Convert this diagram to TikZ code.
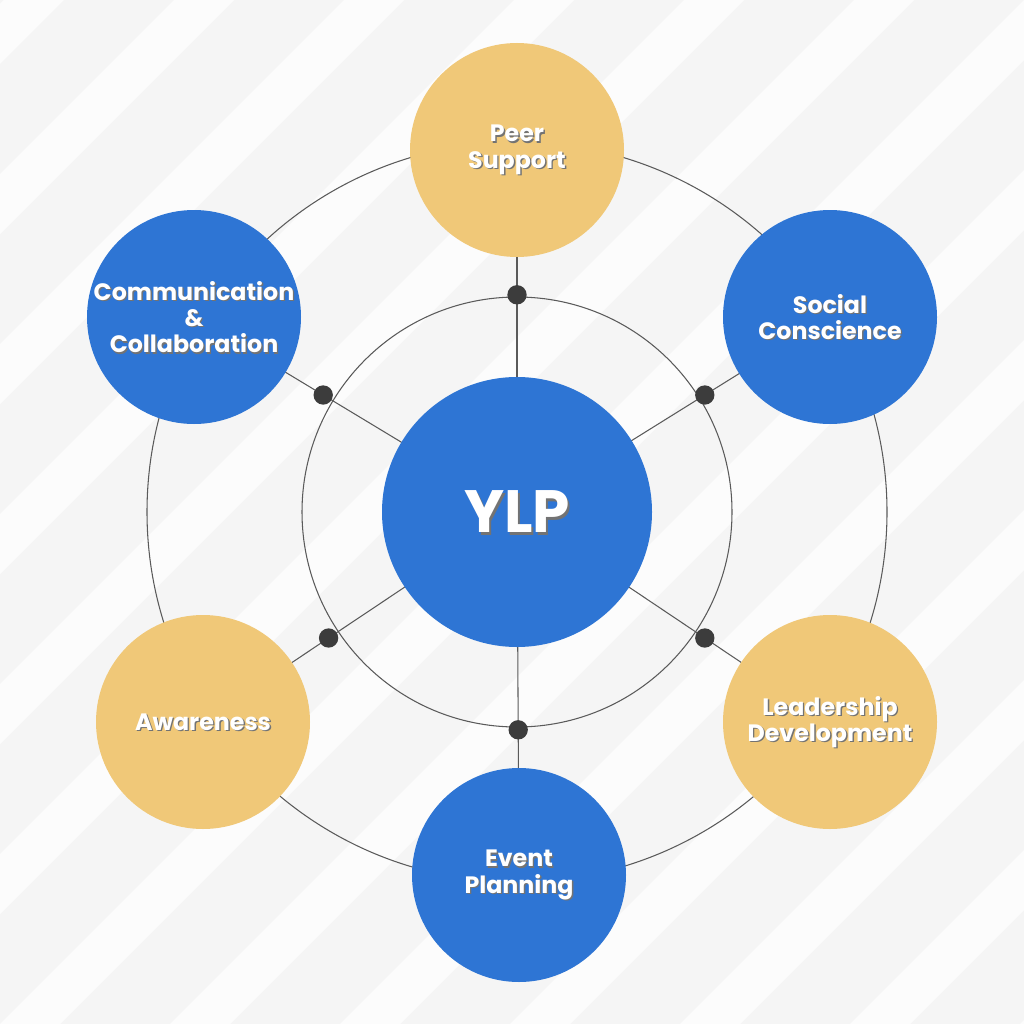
\documentclass[tikz,border=0pt]{standalone}
\usepackage{fontspec}
\setmainfont{Poppins}
\definecolor{ylpblue}{RGB}{46,117,212}
\definecolor{ylpgold}{RGB}{240,200,120}
\definecolor{ringgray}{RGB}{90,90,90}
\definecolor{bggray}{RGB}{245,245,245}
\definecolor{dotgray}{RGB}{60,60,60}
\begin{document}
\begin{tikzpicture}[x=0.02cm,y=-0.02cm,
  blue/.style={fill=ylpblue},
  gold/.style={fill=ylpgold},
  ring/.style={draw=ringgray,line width=0.6pt},
  lbl/.style={text=white,font=\bfseries\fontsize{13.5}{15}\selectfont,align=center},
  shd/.style={text=black!55,font=\bfseries\fontsize{13.5}{15}\selectfont,align=center},
  dot/.style={circle,fill=dotgray,inner sep=0,minimum size=11pt}]
\fill[bggray] (0,0) rectangle (1024,1024);
\begin{scope}
\clip (0,0) rectangle (1024,1024);
\foreach \k in {-6,...,6}{
  \fill[white,opacity=0.7] (\k*170-400,1424) -- (\k*170-340,1424) -- (\k*170+1084,0) -- (\k*170+1024,0) -- cycle;
}
\end{scope}
\coordinate (c) at (517,512);
\draw[ring] (c) circle[radius=370];
\draw[ring] (c) circle[radius=215];
\coordinate (p1) at (517,150);
\coordinate (p2) at (830,317);
\coordinate (p3) at (830,722);
\coordinate (p4) at (519,875);
\coordinate (p5) at (203,722);
\coordinate (p6) at (194,317);
\foreach \i in {1,...,6}{\draw[ring] (c) -- (p\i);}
\foreach \i in {1,...,6}{\path (c) -- (p\i) node[dot,pos=0.6] (d\i) {};}
\fill[gold] (p1) circle[radius=107];
\fill[blue] (p2) circle[radius=107];
\fill[gold] (p3) circle[radius=107];
\fill[blue] (p4) circle[radius=107];
\fill[gold] (p5) circle[radius=107];
\fill[blue] (p6) circle[radius=107];
\fill[blue] (c) circle[radius=135];
\foreach \p/\t in {p1/{Peer\\Support},p2/{Social\\Conscience},p3/{Leadership\\Development},p4/{Event\\Planning},p5/{Awareness},p6/{Communication\\\&\\Collaboration}}{
  \node[shd] at ([xshift=0.8pt,yshift=-0.8pt]\p) {\t};
  \node[lbl] (t\p) at (\p) {\t};
}
\node[text=black!55,font=\bfseries\fontsize{34}{36}\selectfont] at ([xshift=1.2pt,yshift=-1.2pt]c) {YLP};
\node[text=white,font=\bfseries\fontsize{34}{36}\selectfont] (ylp) at (c) {YLP};
\end{tikzpicture}
\end{document}
